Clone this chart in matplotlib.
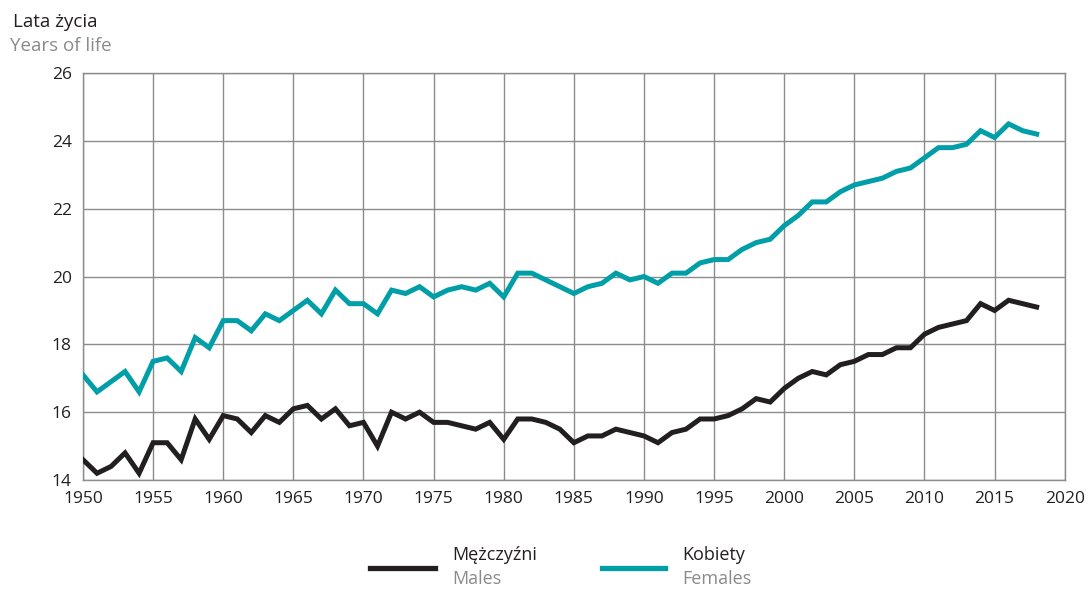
import matplotlib.pyplot as plt
from matplotlib.lines import Line2D
import numpy as np

plt.rcParams["font.family"] = ["Open Sans", "DejaVu Sans"]

# data
years = np.arange(1950, 2019)
females = [17.1, 16.6, 16.9, 17.2, 16.6, 17.5, 17.6, 17.2, 18.2, 17.9,
           18.7, 18.7, 18.4, 18.9, 18.7, 19.0, 19.3, 18.9, 19.6, 19.2,
           19.2, 18.9, 19.6, 19.5, 19.7, 19.4, 19.6, 19.7, 19.6, 19.8,
           19.4, 20.1, 20.1, 19.9, 19.7, 19.5, 19.7, 19.8, 20.1, 19.9,
           20.0, 19.8, 20.1, 20.1, 20.4, 20.5, 20.5, 20.8, 21.0, 21.1,
           21.5, 21.8, 22.2, 22.2, 22.5, 22.7, 22.8, 22.9, 23.1, 23.2,
           23.5, 23.8, 23.8, 23.9, 24.3, 24.1, 24.5, 24.3, 24.2]
males = [14.6, 14.2, 14.4, 14.8, 14.2, 15.1, 15.1, 14.6, 15.8, 15.2,
         15.9, 15.8, 15.4, 15.9, 15.7, 16.1, 16.2, 15.8, 16.1, 15.6,
         15.7, 15.0, 16.0, 15.8, 16.0, 15.7, 15.7, 15.6, 15.5, 15.7,
         15.2, 15.8, 15.8, 15.7, 15.5, 15.1, 15.3, 15.3, 15.5, 15.4,
         15.3, 15.1, 15.4, 15.5, 15.8, 15.8, 15.9, 16.1, 16.4, 16.3,
         16.7, 17.0, 17.2, 17.1, 17.4, 17.5, 17.7, 17.7, 17.9, 17.9,
         18.3, 18.5, 18.6, 18.7, 19.2, 19.0, 19.3, 19.2, 19.1]

BLACK = "#231f20"
TEAL = "#009fa8"
GRAY = "#8a8a8a"

fig = plt.figure(figsize=(10.92, 5.89), dpi=100)
ax = fig.add_axes([0.076, 0.185, 0.899, 0.691])

ax.plot(years, males, color=BLACK, lw=3.6, solid_joinstyle="miter", zorder=3)
ax.plot(years, females, color=TEAL, lw=3.6, solid_joinstyle="miter", zorder=3)

ax.set_xlim(1950, 2020)
ax.set_ylim(14, 26)
ax.set_xticks(np.arange(1950, 2021, 5))
ax.set_yticks(np.arange(14, 27, 2))
ax.grid(True, color="#8c8c8c", lw=1.0)
ax.set_axisbelow(True)
for s in ax.spines.values():
    s.set_color("#8c8c8c")
    s.set_linewidth(1.0)
ax.tick_params(length=0, labelsize=12.5, colors="#231f20", pad=8)

fig.text(0.012, 0.962, "Lata życia", fontsize=13.5, color=BLACK, va="center")
fig.text(0.009, 0.922, "Years of life", fontsize=13.5, color=GRAY, va="center")

# legend
fig.add_artist(Line2D([0.339, 0.398], [0.036, 0.036], color=BLACK, lw=3.8))
fig.text(0.414, 0.057, "Mężczyźni", fontsize=13, color=BLACK, va="center")
fig.text(0.414, 0.017, "Males", fontsize=13, color=GRAY, va="center")
fig.add_artist(Line2D([0.551, 0.609], [0.036, 0.036], color=TEAL, lw=3.8))
fig.text(0.625, 0.057, "Kobiety", fontsize=13, color=BLACK, va="center")
fig.text(0.625, 0.017, "Females", fontsize=13, color=GRAY, va="center")

fig.savefig("out.png", dpi=100)
